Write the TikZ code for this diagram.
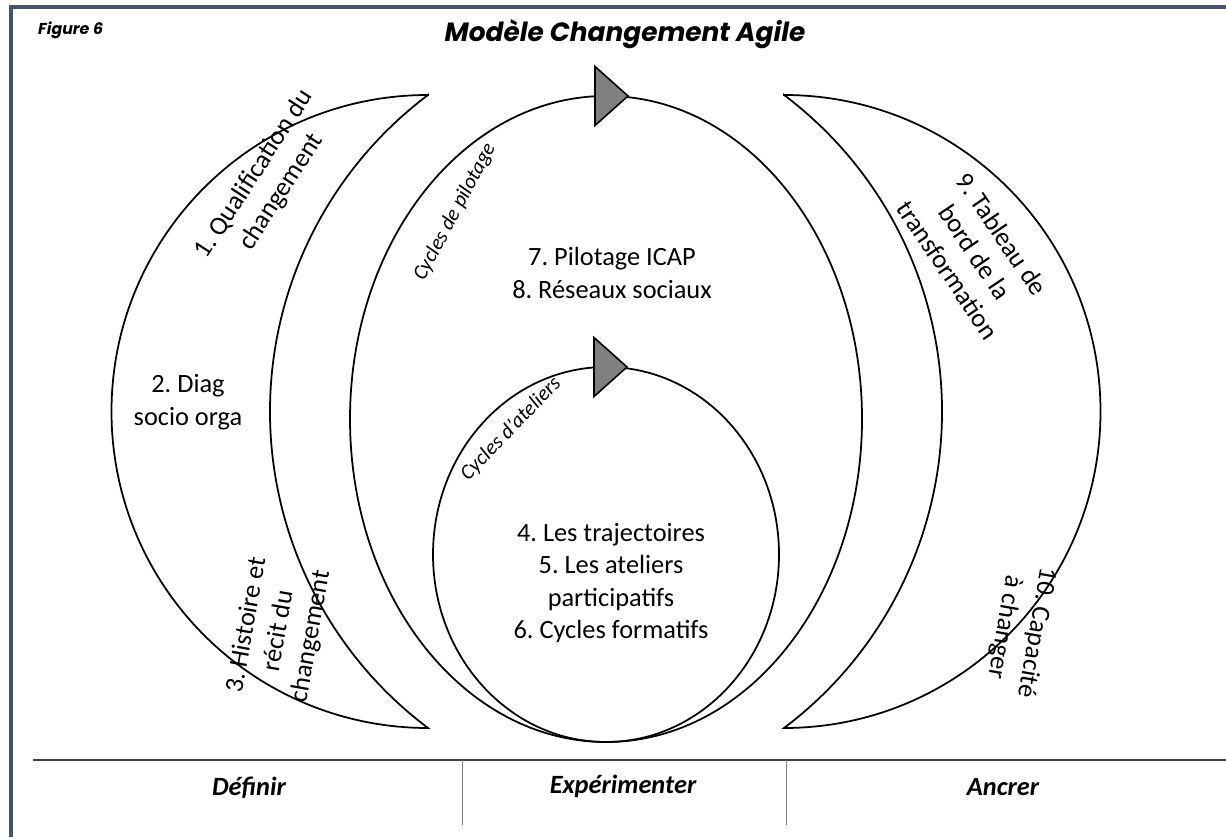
\documentclass[tikz,border=0pt]{standalone}
\usepackage{fontspec}
\setmainfont{Carlito}
\newfontfamily\gothicfont{Poppins}
\frenchspacing
\usetikzlibrary{calc}
\definecolor{framecol}{HTML}{44546A}
\def\cyclehead(#1,#2){\draw[fill=black!50, line width=0.9pt] (#1,#2) -- ++(-0.66,0.59) -- ++(0,-1.18) -- cycle;}
\tikzset{
  outline/.style={line width=1pt},
  body/.style={font=\fontsize{15}{18.5}\selectfont, align=center},
  cyclelabel/.style={font=\itshape\fontsize{12}{14}\selectfont},
  phase/.style={font=\bfseries\itshape\fontsize{15}{18}\selectfont, anchor=base}
}

\begin{document}
\begin{tikzpicture}
		%%%%% START %%%%%
		\useasboundingbox (0,0) rectangle (24.52,16.74);
		
		\fill[framecol] (0.17,16.64) rectangle (24.52,16.56);
		\fill[framecol] (0.17,16.64) rectangle (0.26,0);
		
		\node[anchor=base west, font=\gothicfont\bfseries\itshape\fontsize{9}{11}\selectfont] (fig) at (0.64,16.04) {Figure 6};
		\node[anchor=base, font=\gothicfont\bfseries\itshape\fontsize{15}{18}\selectfont] (title) at (12.5,15.9) {Modèle Changement Agile};
		
		% crescents
		\draw[outline] (8.56,14.84) arc[start angle=90, end angle=270, radius=6.33] arc[start angle=233.06, end angle=126.94, radius=7.92] -- cycle;
		\draw[outline] (15.68,14.84) arc[start angle=90, end angle=-90, radius=6.33] arc[start angle=-53.06, end angle=53.06, radius=7.92] -- cycle;
		
		% cycles
		\draw[outline] (12.12,8.36) ellipse [x radius=5.12, y radius=6.46];
		\draw[outline] (12.12,5.65) ellipse [x radius=3.46, y radius=3.75];
		\cyclehead(12.56,14.82)
		\cyclehead(12.54,9.40)
		
		\node[body, rotate=57] (qualif) at (5.36,13.08) {1. Qualification du\\changement};
		\node[body] (diag) at (3.76,8.70) {2. Diag\\socio orga};
		\node[body, rotate=80] (histoire) at (5.58,4.12) {3. Histoire et\\récit du\\changement};
		
		\node[cyclelabel, rotate=62] (pilotage) at (9.10,12.50) {Cycles de pilotage};
		\node[cyclelabel, rotate=46] (ateliers) at (10.22,8.16) {Cycles d’ateliers};
		\node[body] (icap) at (12.24,11.28) {7. Pilotage ICAP\\8. Réseaux sociaux};
		\node[body] (trajectoires) at (12.22,5.08) {4. Les trajectoires\\5. Les ateliers\\participatifs\\6. Cycles formatifs};
		
		\node[body, rotate=-56] (tableau) at (19.5,11.70) {9. Tableau de\\bord de la\\transformation};
		\node[body, rotate=-100] (capacite) at (20.4,4.14) {10. Capacité\\à changer};
		
		% phases
		\draw[line width=0.9pt, black!75] (0.66,1.54) -- (24.52,1.54);
		\draw[line width=0.5pt, black!50] (9.24,1.54) -- (9.24,0.24);
		\draw[line width=0.5pt, black!50] (15.72,1.54) -- (15.72,0.24);
		\node[phase] (definir) at (4.98,0.84) {Définir};
		\node[phase] (experimenter) at (12.46,0.88) {Expérimenter};
		\node[phase] (ancrer) at (20.06,0.84) {Ancrer};
		
		%%%%% END %%%%%
	\end{tikzpicture}
\end{document}
